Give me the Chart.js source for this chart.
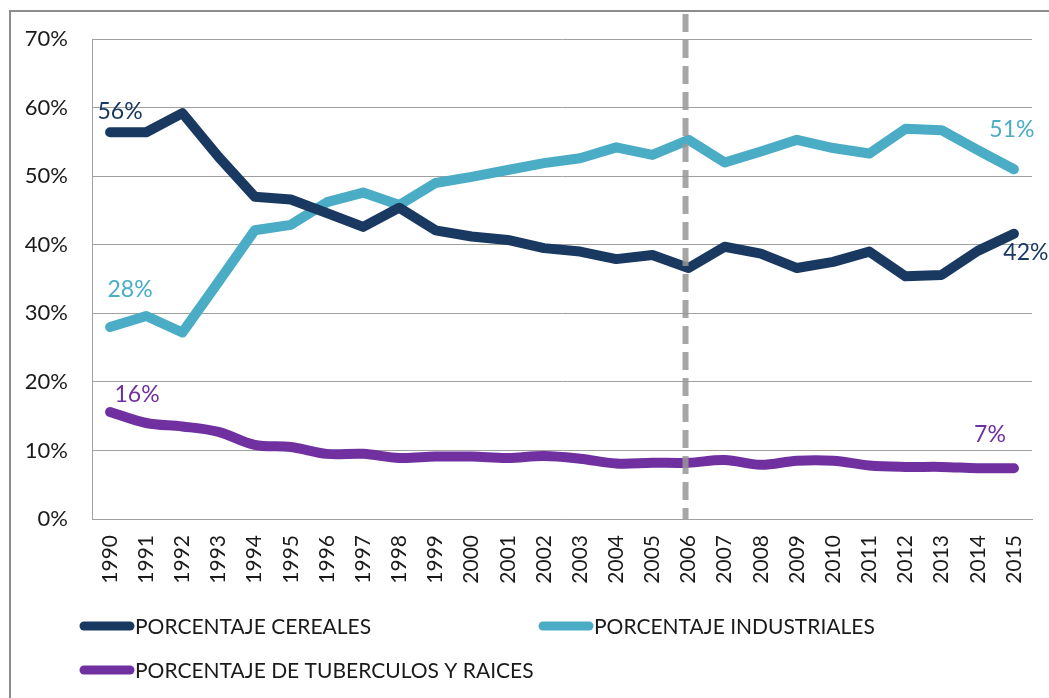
<!DOCTYPE html>
<html>
<head>
<meta charset="utf-8">
<script src="https://cdn.jsdelivr.net/npm/chart.js@4"></script>
<style>
  html, body { margin: 0; padding: 0; background: #fff; }
  #wrap { width: 1049px; height: 698px; position: relative; }
</style>
</head>
<body>
<div id="wrap"><canvas id="chart"></canvas></div>
<script>
// años y series (en %)
const years = ["1990", "1991", "1992", "1993", "1994", "1995", "1996", "1997", "1998", "1999", "2000", "2001", "2002",
  "2003", "2004", "2005", "2006", "2007", "2008", "2009", "2010", "2011", "2012", "2013", "2014", "2015"]
const cereales = [56.4, 56.4, 59.2, 52.8, 47.0, 46.6, 44.6, 42.6, 45.4, 42.1, 41.2, 40.7, 39.5,
  39.0, 37.9, 38.5, 36.6, 39.7, 38.7, 36.6, 37.5, 39.0, 35.4, 35.6, 39.1, 41.6]
const industriales = [28.0, 29.6, 27.2, 34.6, 42.1, 42.9, 46.2, 47.6, 45.8, 49.0, 49.9, 50.9, 51.9,
  52.6, 54.2, 53.1, 55.3, 52.0, 53.6, 55.3, 54.1, 53.3, 56.9, 56.7, 53.8, 51.0]
const tuberculos = [15.6, 14.0, 13.5, 12.7, 10.8, 10.5, 9.5, 9.5, 8.9, 9.1, 9.1, 8.9, 9.2,
  8.8, 8.1, 8.2, 8.2, 8.6, 7.9, 8.5, 8.5, 7.8, 7.6, 7.6, 7.4, 7.4]
const seriesNames = ["PORCENTAJE CEREALES", "PORCENTAJE INDUSTRIALES", "PORCENTAJE DE TUBERCULOS Y RAICES"]
const yTicks = [0, 10, 20, 30, 40, 50, 60, 70]
const markYear = "2006"

const FONT = "Lato, 'Open Sans', sans-serif"
const colNavy = "#1a3961"
const colCyan = "#4bacc6"
const colPurple = "#7030a0"

// marco exterior
const framePlugin = {
  id: "frame",
  beforeDraw(chart) {
    const ctx = chart.ctx
    ctx.save()
    ctx.strokeStyle = "#8c8c8c"
    ctx.lineWidth = 2
    ctx.beginPath()
    ctx.moveTo(10, 700)
    ctx.lineTo(10, 11)
    ctx.lineTo(1060, 11)
    ctx.stroke()
    ctx.restore()
  },
}

// línea discontinua vertical en 2006
const markPlugin = {
  id: "mark",
  afterDatasetsDraw(chart) {
    const ctx = chart.ctx
    const x = chart.scales.x.getPixelForValue(years.indexOf(markYear)) - 3
    ctx.save()
    ctx.strokeStyle = "rgba(150,150,150,0.85)"
    ctx.lineWidth = 6
    ctx.setLineDash([18, 8])
    ctx.beginPath()
    ctx.moveTo(x, 14)
    ctx.lineTo(x, chart.chartArea.bottom)
    ctx.stroke()
    ctx.restore()
  },
}

// etiquetas de primer y último valor
const labelOffsets = [
  [[10, -21], [12, 19]],
  [[20, -37], [-2, -40]],
  [[27, -17], [-24, -34]],
]
const endLabelsPlugin = {
  id: "endLabels",
  afterDatasetsDraw(chart) {
    const ctx = chart.ctx
    ctx.save()
    ctx.font = "23px " + FONT
    ctx.textAlign = "center"
    ctx.textBaseline = "middle"
    chart.data.datasets.forEach((ds, i) => {
      const meta = chart.getDatasetMeta(i)
      const last = ds.data.length - 1
      ;[0, last].forEach((idx, k) => {
        const pt = meta.data[idx]
        const off = labelOffsets[i][k]
        ctx.fillStyle = ds.borderColor
        ctx.fillText(Math.round(ds.data[idx]) + "%", pt.x + off[0], pt.y + off[1])
      })
    })
    ctx.restore()
  },
}

// leyenda alineada a la izquierda
const legendPos = [[80, 626], [539, 626], [80, 670]]
const legendPlugin = {
  id: "leftLegend",
  afterDraw(chart) {
    const ctx = chart.ctx
    ctx.save()
    ctx.font = "21px " + FONT
    ctx.textBaseline = "middle"
    chart.data.datasets.forEach((ds, i) => {
      const [x, y] = legendPos[i]
      ctx.strokeStyle = ds.borderColor
      ctx.lineWidth = 9
      ctx.lineCap = "round"
      ctx.beginPath()
      ctx.moveTo(x + 4, y)
      ctx.lineTo(x + 50, y)
      ctx.stroke()
      ctx.fillStyle = "#1a1a1a"
      ctx.fillText(ds.label, x + 55, y + 1)
    })
    ctx.restore()
  },
}

new Chart(document.getElementById("chart"), {
  type: "line",
  data: {
    labels: years,
    datasets: [
      {
        label: seriesNames[0],
        data: cereales,
        borderColor: colNavy,
        borderWidth: 10,
        tension: 0,
      },
      {
        label: seriesNames[1],
        data: industriales,
        borderColor: colCyan,
        borderWidth: 10,
        tension: 0,
      },
      {
        label: seriesNames[2],
        data: tuberculos,
        borderColor: colPurple,
        borderWidth: 10,
        tension: 0.35,
      },
    ],
  },
  options: {
    responsive: true,
    maintainAspectRatio: false,
    animation: false,
    layout: { padding: { top: 39, right: 17, left: 0, bottom: 0 } },
    elements: {
      point: { radius: 0 },
      line: { borderCapStyle: "round", borderJoinStyle: "round" },
    },
    plugins: {
      legend: { display: false },
      tooltip: { enabled: false },
    },
    scales: {
      x: {
        offset: true,
        grid: { display: false, drawTicks: false },
        border: { display: true, color: "#a0a0a0", width: 1 },
        ticks: {
          minRotation: 90,
          maxRotation: 90,
          autoSkip: false,
          padding: 16,
          color: "#1a1a1a",
          font: { family: FONT, size: 21 },
        },
        afterFit(scale) {
          scale.height = 179
          scale.paddingLeft = 0
          scale.paddingRight = 0
        },
      },
      y: {
        min: 0,
        max: 70,
        afterBuildTicks(scale) {
          scale.ticks = yTicks.map((v) => ({ value: v }))
        },
        grid: { color: "#a0a0a0", lineWidth: 1, drawTicks: false },
        border: { display: true, color: "#a0a0a0", width: 1 },
        ticks: {
          padding: 24,
          color: "#1a1a1a",
          font: { family: FONT, size: 22 },
          callback: (v) => v + "%",
        },
        afterFit(scale) {
          scale.width = 92
        },
      },
    },
  },
  plugins: [framePlugin, markPlugin, endLabelsPlugin, legendPlugin],
})
</script>
</body>
</html>
